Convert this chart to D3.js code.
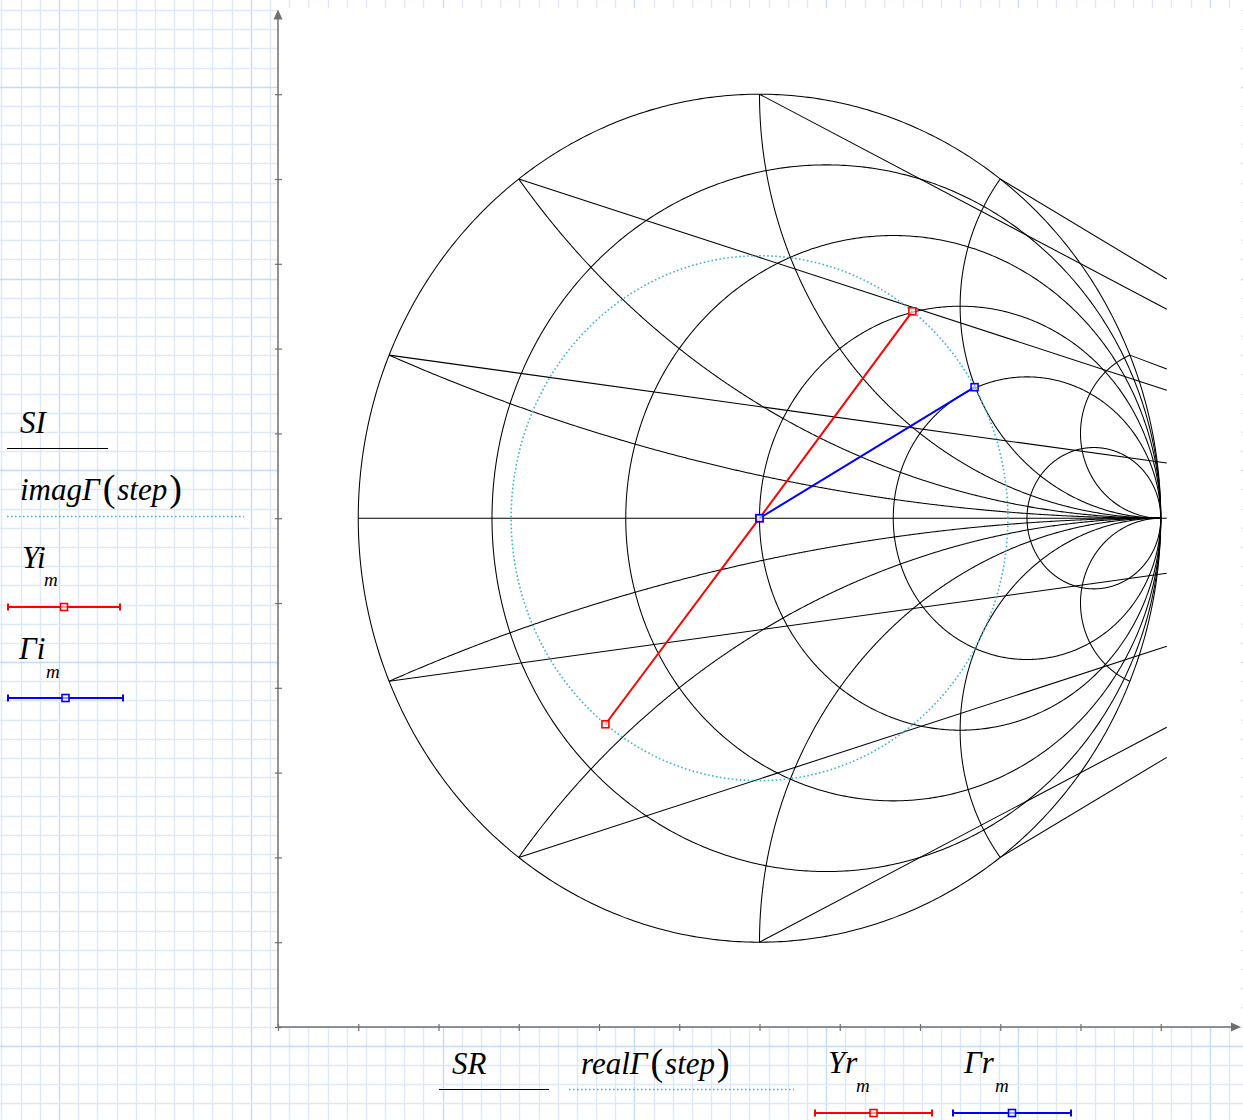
<!DOCTYPE html>
<html>
<head>
<meta charset="utf-8">
<script src="https://cdn.jsdelivr.net/npm/d3@7"></script>
<style>
  html, body { margin: 0; padding: 0; background: #ffffff; }
  svg { display: block; }
  .lbl { font-family: "Liberation Serif", "Times New Roman", serif; font-style: italic; fill: #000; }
  .paren { font-style: normal; }
</style>
</head>
<body>
<svg id="chart" width="1243" height="1120"></svg>
<script>
// ---- chart values ----
// constant-resistance circles of the Smith chart
const resistanceCircles = [0, 0.2, 0.5, 1, 2, 5];
// constant-reactance arcs
const reactanceArcs = [0.2, 0.5, 1, 2, 5, -0.2, -0.5, -1, -2, -5];
// straight leads from the rim point of an arc out past the right edge
const leadReactance = [2, 1, 0.5, 0.2, 5, -2, -1, -0.5, -0.2];
const leadEndImag = [0.564, 0.493, 0.302, 0.130, 0.352, -0.564, -0.493, -0.302, -0.130];
const leadEndReal = 1.015;
// real axis of the chart (x = 0)
const realAxisSpan = [-1, 1.015];
// |Γ| of the swept step
const stepMagnitude = 0.619;
// admittance points
const Yr = [-0.384, 0, 0.381];
const Yi = [-0.486, 0, 0.488];
// reflection coefficient points
const Gr = [0, 0.536];
const Gi = [0, 0.309];
// axis extent and ticks
const axisMin = -1.2, axisMax = 1.2;
const tickValues = [-1.2, -1, -0.8, -0.6, -0.4, -0.2, 0, 0.2, 0.4, 0.6, 0.8, 1];

// ---- layout ----
const W = 1243, H = 1120;
const plot = { left: 278, right: 1241, top: 9.4, bottom: 1027 };
const svg = d3.select("#chart");

const x = d3.scaleLinear().domain([axisMin, axisMax]).range([plot.left, plot.right]);
const y = d3.scaleLinear().domain([axisMin, axisMax]).range([plot.bottom, plot.top]);

// ---- worksheet grid paper ----
const paper = svg.append("g");
paper.append("rect").attr("width", W).attr("height", H).attr("fill", "#ffffff");
const minor = 19.18;
const vx = d3.range(-3, 66).map(k => 59 + k * minor).filter(v => v >= 0 && v <= W);
const hy = d3.range(-4, 60).map(k => 1045.7 - k * minor).filter(v => v >= 0 && v <= H);
const isMajorV = v => Math.abs(((v - 59) / minor) % 10) < 0.01;
const isMajorH = v => Math.abs(((1045.7 - v) / minor) % 10) < 0.01;
paper.selectAll("line.v").data(vx).join("line")
  .attr("x1", d => Math.round(d) + 0.5).attr("x2", d => Math.round(d) + 0.5)
  .attr("y1", 0).attr("y2", H)
  .attr("stroke", d => isMajorV(d) ? "#c6dcf6" : "#dde9f8").attr("stroke-width", 1.4);
paper.selectAll("line.h").data(hy).join("line")
  .attr("y1", d => Math.round(d) + 0.5).attr("y2", d => Math.round(d) + 0.5)
  .attr("x1", 0).attr("x2", W)
  .attr("stroke", d => isMajorH(d) ? "#c6dcf6" : "#dde9f8").attr("stroke-width", 1.4);

// white plot area
svg.append("rect")
  .attr("x", plot.left).attr("y", 8)
  .attr("width", plot.right - plot.left).attr("height", plot.bottom - 8)
  .attr("fill", "#ffffff");

// ---- Smith chart geometry ----
function gamma(r, xx) {
  const d = (r + 1) * (r + 1) + xx * xx;
  return [(r * r - 1 + xx * xx) / d, (2 * xx) / d];
}
const line = d3.line().x(d => x(d[0])).y(d => y(d[1]));

const grid = svg.append("g").attr("fill", "none").attr("stroke", "#000").attr("stroke-width", 1.05);

// constant-resistance circles
const circleSteps = d3.range(0, 721).map(i => (i / 720) * 2 * Math.PI);
grid.selectAll("path.rc").data(resistanceCircles).join("path")
  .attr("d", r => {
    const c = r / (1 + r), rad = 1 / (1 + r);
    return line(circleSteps.map(t => [c + rad * Math.cos(t), rad * Math.sin(t)]));
  });

// constant-reactance arcs, r running from 0 towards infinity
const arcSteps = d3.range(0, 600).map(i => Math.tan((i / 600) * Math.PI / 2));
grid.selectAll("path.xa").data(reactanceArcs).join("path")
  .attr("d", xx => line(arcSteps.map(r => gamma(r, xx)).concat([[1, 0]])));

// real axis
grid.append("path").attr("d", line(realAxisSpan.map(v => [v, 0])));

// leads
grid.selectAll("path.lead").data(leadReactance).join("path")
  .attr("d", (xx, i) => line([gamma(0, xx), [leadEndReal, leadEndImag[i]]]));

// swept |Γ| circle (dotted)
svg.append("path")
  .attr("d", line(circleSteps.map(t => [stepMagnitude * Math.cos(t), stepMagnitude * Math.sin(t)])))
  .attr("fill", "none").attr("stroke", "#3ab3c9").attr("stroke-width", 1.6)
  .attr("stroke-dasharray", "1.6,2.4");

// marked traces
function trace(xs, ys, color) {
  const pts = xs.map((v, i) => [v, ys[i]]);
  svg.append("path").attr("d", line(pts))
    .attr("fill", "none").attr("stroke", color).attr("stroke-width", 2);
  svg.append("g").selectAll("rect").data(pts).join("rect")
    .attr("x", d => x(d[0]) - 3.5).attr("y", d => y(d[1]) - 3.5)
    .attr("width", 7).attr("height", 7)
    .attr("fill", "#ffffff").attr("fill-opacity", 0.6)
    .attr("stroke", color).attr("stroke-width", 1.6);
}
trace(Yr, Yi, "#ff0000");
trace(Gr, Gi, "#0000ff");

// ---- axes ----
const axisColor = "#6f6f6f";
const ax = svg.append("g").attr("transform", `translate(0,${plot.bottom})`)
  .call(d3.axisBottom(x).tickValues(tickValues).tickSize(7).tickFormat(""));
ax.select(".domain").remove();
ax.selectAll(".tick line").attr("y1", -3).attr("y2", 4).attr("stroke", axisColor).attr("stroke-width", 1.2);

const ay = svg.append("g").attr("transform", `translate(${plot.left},0)`)
  .call(d3.axisLeft(y).tickValues(tickValues).tickSize(7).tickFormat(""));
ay.select(".domain").remove();
ay.selectAll(".tick line").attr("x1", -3).attr("x2", 4).attr("stroke", axisColor).attr("stroke-width", 1.2);

svg.append("line")
  .attr("x1", plot.left).attr("x2", x(axisMax) - 8)
  .attr("y1", plot.bottom).attr("y2", plot.bottom)
  .attr("stroke", axisColor).attr("stroke-width", 1.5);
svg.append("line")
  .attr("x1", plot.left).attr("x2", plot.left)
  .attr("y1", plot.bottom).attr("y2", y(axisMax) + 8)
  .attr("stroke", axisColor).attr("stroke-width", 1.5);
// arrow heads
const xe = x(axisMax), ye = y(axisMax);
svg.append("path")
  .attr("d", `M${xe},${plot.bottom} L${xe - 10},${plot.bottom - 4.5} L${xe - 10},${plot.bottom + 4.5} Z`)
  .attr("fill", axisColor);
svg.append("path")
  .attr("d", `M${plot.left},${ye} L${plot.left - 4.5},${ye + 10} L${plot.left + 4.5},${ye + 10} Z`)
  .attr("fill", axisColor);

// ---- trace labels ----
const FS = 31, SUB = 19, PAREN = 38;
function label(px, py, parts) {
  const t = svg.append("text").attr("class", "lbl").attr("x", px).attr("y", py).attr("font-size", FS);
  parts.forEach(p => {
    const s = t.append("tspan").text(p.t);
    if (p.paren) s.attr("class", "paren").attr("font-size", PAREN).attr("dy", p.dy || 0);
    if (p.dx) s.attr("dx", p.dx);
    if (p.dy && !p.paren) s.attr("dy", p.dy);
  });
  return t;
}
function sub(px, py, txt) {
  svg.append("text").attr("class", "lbl").attr("x", px).attr("y", py).attr("font-size", SUB).text(txt);
}
function legendSolid(x1, x2, yy, color) {
  svg.append("line").attr("x1", x1).attr("x2", x2).attr("y1", yy).attr("y2", yy)
    .attr("stroke", color).attr("stroke-width", 1.2);
}
function legendDotted(x1, x2, yy) {
  svg.append("line").attr("x1", x1).attr("x2", x2).attr("y1", yy).attr("y2", yy)
    .attr("stroke", "#3ab3c9").attr("stroke-width", 1.6).attr("stroke-dasharray", "1.6,2.4");
}
function legendMarked(x1, x2, yy, color) {
  svg.append("line").attr("x1", x1).attr("x2", x2).attr("y1", yy).attr("y2", yy)
    .attr("stroke", color).attr("stroke-width", 2);
  const mid = (x1 + x2) / 2;
  svg.append("rect").attr("x", mid - 3.5).attr("y", yy - 3.5).attr("width", 7).attr("height", 7)
    .attr("fill", "#fff").attr("fill-opacity", 0.6).attr("stroke", color).attr("stroke-width", 1.6);
  [x1, x2].forEach(e => {
    svg.append("line").attr("x1", e).attr("x2", e).attr("y1", yy - 3.5).attr("y2", yy + 3.5)
      .attr("stroke", color).attr("stroke-width", 2);
  });
}
const stepParts = (name) => [
  { t: name },
  { t: "(", paren: true, dx: 3, dy: 1 },
  { t: "step", dx: 2, dy: -1 },
  { t: ")", paren: true, dx: 2, dy: 1 }
];

// vertical-axis legend
label(20, 433, [{ t: "SI" }]);
legendSolid(7, 108, 448.5, "#000");
label(20, 500, stepParts("imagΓ"));
legendDotted(7, 244, 516.5);
label(22, 568, [{ t: "Yi" }]);
sub(44, 586, "m");
legendMarked(8, 120, 607, "#ff0000");
label(19, 659, [{ t: "Γi" }]);
sub(46, 678, "m");
legendMarked(8, 123, 698, "#0000ff");

// horizontal-axis legend
label(452, 1074, [{ t: "SR" }]);
legendSolid(439, 549, 1089.5, "#000");
label(581, 1074, stepParts("realΓ"));
legendDotted(569, 794, 1089.5);
label(828, 1073, [{ t: "Yr" }]);
sub(856, 1092, "m");
legendMarked(815, 932, 1113, "#ff0000");
label(964, 1073, [{ t: "Γr" }]);
sub(995, 1092, "m");
legendMarked(953, 1071, 1113, "#0000ff");
</script>
</body>
</html>
